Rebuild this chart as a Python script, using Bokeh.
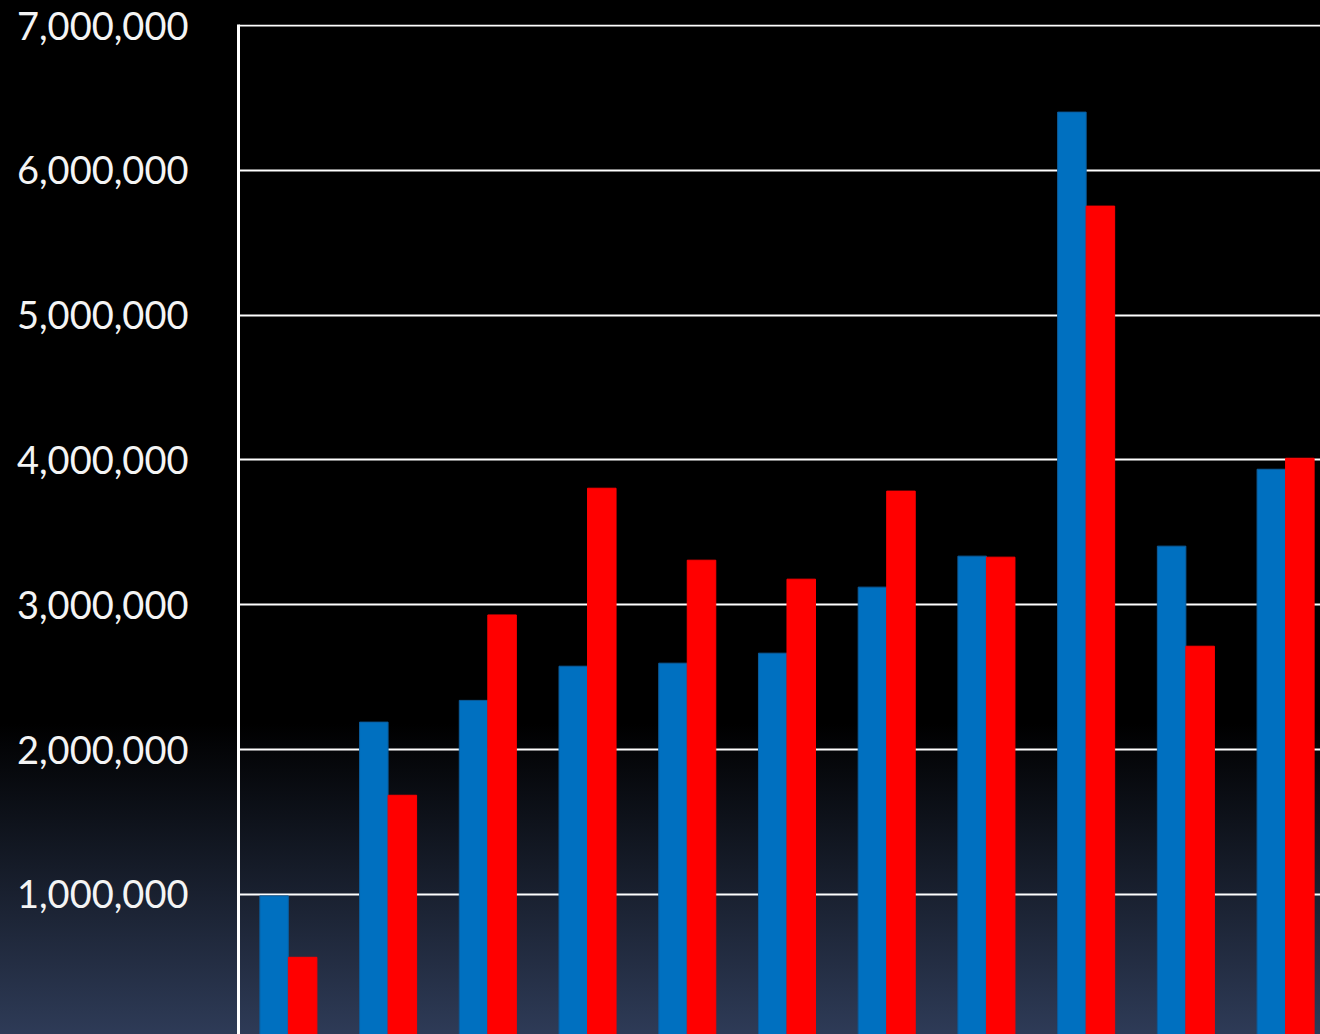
from bokeh.plotting import figure
from bokeh.models import Range1d, FixedTicker, NumeralTickFormatter
from bokeh.embed import file_html
from bokeh.resources import INLINE

groups = [1, 2, 3, 4, 5, 6, 7, 8, 9, 10, 11]
blue_values = [990000, 2190000, 2340000, 2576000, 2597000, 2666000, 3122000, 3336000, 6402000, 3405000, 3936000]
red_values = [566000, 1685000, 2930000, 3805000, 3308000, 3177000, 3785000, 3329000, 5753000, 2714000, 4012000]
y_ticks = [1000000, 2000000, 3000000, 4000000, 5000000, 6000000, 7000000]

bar_w = 0.286

p = figure(width=1320, height=1034, output_backend="svg", toolbar_location=None,
           x_axis_type=None, x_range=Range1d(0.5, 11.35), y_range=Range1d(33000, 7007000),
           min_border_left=238, min_border_right=0, min_border_top=24, min_border_bottom=0)
p.background_fill_color = None
p.border_fill_color = None
p.outline_line_color = None

p.xgrid.grid_line_color = None
p.ygrid.grid_line_color = "white"
p.ygrid.grid_line_width = 2
p.ygrid.ticker = FixedTicker(ticks=y_ticks)

ax = p.yaxis[0]
ax.ticker = FixedTicker(ticks=y_ticks)
ax.formatter = NumeralTickFormatter(format="0,0")
ax.axis_line_color = "white"
ax.axis_line_width = 3
ax.major_tick_line_color = None
ax.minor_tick_line_color = None
ax.major_tick_out = 0
ax.major_tick_in = 0
ax.major_label_standoff = 50
ax.major_label_text_color = "#f4f4f4"
ax.major_label_text_font = "Lato"
ax.major_label_text_font_size = "38px"

xb = [g - bar_w / 2 for g in groups]
xr = [g + bar_w / 2 for g in groups]
p.vbar(x=xb, top=blue_values, bottom=0, width=bar_w, fill_color="#0070C0", line_color="#0b5c9c", line_width=1)
p.vbar(x=xr, top=red_values, bottom=0, width=bar_w, fill_color="#FF0000", line_color="#FF0000", line_width=1)

style = ("<style>html,body{margin:0;padding:0;overflow:hidden;height:100%;"
         "background:linear-gradient(to bottom,#000 0%,#000 70%,#2e3b57 100%);}</style></head>")
open("out.html", "w").write(file_html(p, INLINE).replace("</head>", style, 1))
